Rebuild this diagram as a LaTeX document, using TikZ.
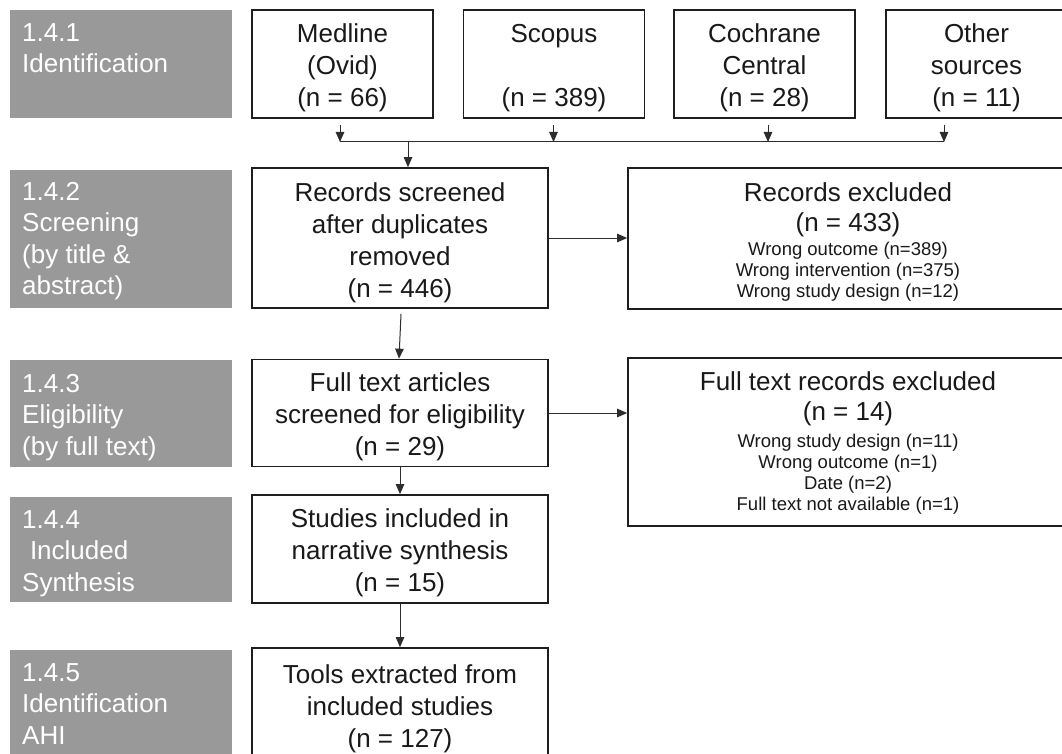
\documentclass[tikz,border=0pt]{standalone}
\usepackage{fontspec}
\setmainfont{Liberation Sans}
\usetikzlibrary{arrows.meta}
\definecolor{lblgray}{RGB}{153,153,153}
\definecolor{boxline}{RGB}{30,30,30}
\definecolor{arrline}{RGB}{45,45,45}
\definecolor{txt}{RGB}{25,25,25}
\newcommand\bigfnt{\fontsize{26}{32}\selectfont}
\newcommand\midfnt{\fontsize{26}{30}\selectfont}
\newcommand\smlfnt{\fontsize{18.5}{21}\selectfont}
\newcommand\lblfnt{\fontsize{26}{31.5}\selectfont}
\tikzset{
  box/.style={draw=boxline, line width=1.7pt, fill=white, inner sep=0pt},
  btext/.style={font=\bigfnt, text=txt, align=center, inner sep=0pt},
  mtext/.style={font=\midfnt, text=txt, align=center, inner sep=0pt},
  stext/.style={font=\smlfnt, text=txt, align=center, inner sep=0pt},
  graybox/.style={fill=lblgray, draw=none, anchor=north west, minimum width=222pt, inner sep=0pt},
  gtext/.style={font=\lblfnt, text=white, align=left, anchor=north west, inner sep=0pt},
  arr/.style={draw=arrline, line width=1pt, -{Triangle[length=10pt,width=8.5pt]}},
  plain/.style={draw=arrline, line width=1pt},
}
\begin{document}
\begin{tikzpicture}[x=1pt,y=-1pt]
\useasboundingbox (0,0) rectangle (1062,754);
\clip (0,0) rectangle (1062,754);
\fill[white] (0,0) rectangle (1062,754);

% grey stage labels
\node[graybox, minimum height=108pt] (g1) at (10,10) {};
\node[gtext] (g1t) at ([shift={(12pt,-13pt)}]g1.north west) {1.4.1\\Identification};
\node[graybox, minimum height=138pt] (g2) at (10,170) {};
\node[gtext] (g2t) at ([shift={(12pt,-12pt)}]g2.north west) {1.4.2\\Screening\\(by title \&\\abstract)};
\node[graybox, minimum height=107pt] (g3) at (10,360) {};
\node[gtext] (g3t) at ([shift={(12pt,-14pt)}]g3.north west) {1.4.3\\Eligibility\\(by full text)};
\node[graybox, minimum height=105pt] (g4) at (10,497) {};
\node[gtext] (g4t) at ([shift={(12pt,-13pt)}]g4.north west) {1.4.4\\\hspace*{0.3em}Included\\Synthesis};
\node[graybox, minimum height=120pt] (g5) at (10,650) {};
\node[gtext] (g5t) at ([shift={(12pt,-13pt)}]g5.north west) {1.4.5\\Identification\\AHI};

% source boxes
\node[box, minimum width=181pt, minimum height=108pt] (med) at (342.5,64) {};
\node[btext] (medt) at ([yshift=-4pt]med.center) {Medline\\(Ovid)\\(n = 66)};
\node[box, minimum width=181pt, minimum height=108pt] (sco) at (554,64) {};
\node[btext] (scot) at ([yshift=-4pt]sco.center) {Scopus\\\mbox{}\\(n = 389)};
\node[box, minimum width=181pt, minimum height=108pt] (coc) at (764.5,64) {};
\node[btext] (coct) at ([yshift=-4pt]coc.center) {Cochrane\\Central\\(n = 28)};
\node[box, minimum width=181pt, minimum height=108pt] (oth) at (976.5,64) {};
\node[btext] (otht) at ([yshift=-4pt]oth.center) {Other\\sources\\(n = 11)};

% main column
\node[box, minimum width=296pt, minimum height=140pt] (scr) at (400,238) {};
\node[btext] (scrt) at ([yshift=-4.5pt]scr.center) {Records screened\\after duplicates\\removed\\(n = 446)};
\node[box, minimum width=296pt, minimum height=107pt] (ft) at (400,413) {};
\node[btext] (ftt) at ([yshift=-4pt]ft.center) {Full text articles\\screened for eligibility\\(n = 29)};
\node[box, minimum width=296pt, minimum height=108pt] (stu) at (400,549) {};
\node[btext] (stut) at ([yshift=-4pt]stu.center) {Studies included in\\narrative synthesis\\(n = 15)};
\node[box, minimum width=296pt, minimum height=116pt] (too) at (400,706) {};
\node[btext] (toot) at ([yshift=-3pt]too.center) {Tools extracted from\\included studies\\(n = 127)};

% exclusion boxes
\node[box, minimum width=440pt, minimum height=141pt] (exc) at (848,238.5) {};
\node[mtext] (exct) at ([yshift=-42.75pt]exc.north) {Records excluded\\(n = 433)};
\node[stext] (excs) at ([yshift=-104.5pt]exc.north) {Wrong outcome (n=389)\\Wrong intervention (n=375)\\Wrong study design (n=12)};
\node[box, minimum width=440pt, minimum height=168pt] (fte) at (848,442) {};
\node[mtext] (ftet) at ([yshift=-41.75pt]fte.north) {Full text records excluded\\(n = 14)};
\node[stext] (ftes) at ([yshift=-117pt]fte.north) {Wrong study design (n=11)\\Wrong outcome (n=1)\\Date (n=2)\\Full text not available (n=1)};

% bus junctions
\coordinate (j1) at (340,142);
\coordinate (j2) at (553.5,142);
\coordinate (j3) at (768,142);
\coordinate (j4) at (944,142);
\coordinate (jm) at (408,142);

\draw[arr] ([yshift=-6pt]med.south -| j1) -- (j1);
\draw[arr] ([yshift=-6pt]sco.south -| j2) -- (j2);
\draw[arr] ([yshift=-6pt]coc.south -| j3) -- (j3);
\draw[arr] ([yshift=-6pt]oth.south -| j4) -- (j4);
\draw[plain] (j1) -- (j4);
\draw[arr] (jm) -- (jm |- scr.north);

\draw[arr] (scr.east) -- (scr.east -| exc.west);
\draw[arr] ([shift={(1pt,-5pt)}]scr.south) -- ([xshift=-1pt]ft.north);
\draw[arr] (ft.east) -- (ft.east -| fte.west);
\draw[arr] (ft.south) -- (stu.north);
\draw[arr] (stu.south) -- (too.north);
\end{tikzpicture}
\end{document}
